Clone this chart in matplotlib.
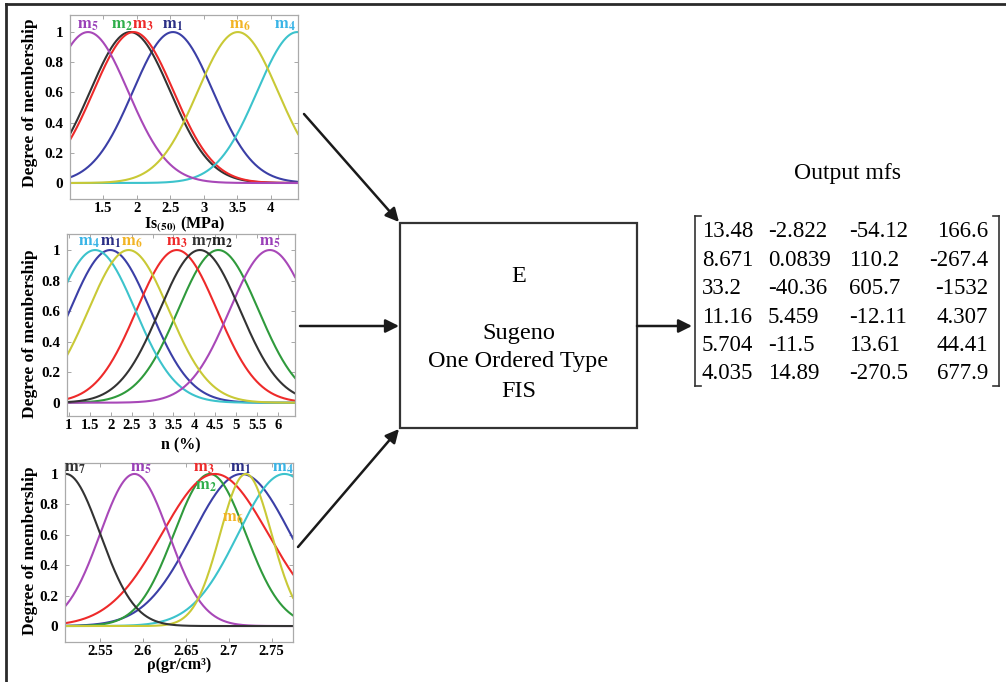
import numpy as np
import matplotlib.pyplot as plt
from matplotlib.patches import FancyArrowPatch, Rectangle
from matplotlib.lines import Line2D

plt.rcParams['font.family'] = ['Liberation Serif', 'DejaVu Serif']
plt.rcParams['mathtext.fontset'] = 'stix'

W, H = 1006, 682

# gaussian input mfs, centres / widths (index = m1..m7)
is50_centers = [2.54, 1.90, 1.95, 4.40, 1.27, 3.51]
is50_sigmas = [0.60, 0.60, 0.60, 0.60, 0.60, 0.60]

n_centers = [1.99, 4.57, 3.58, 1.63, 5.80, 2.43, 4.13]
n_sigmas = [0.96, 0.96, 0.96, 0.96, 0.96, 0.96, 0.96]

rho_centers = [2.715, 2.678, 2.684, 2.765, 2.590, 2.720, 2.510]
rho_sigmas = [0.057, 0.042, 0.062, 0.054, 0.040, 0.030, 0.040]

# output mfs (linear Sugeno coefficients)
output_mfs = [
    [13.48, -2.822, -54.12, 166.6],
    [8.671, 0.0839, 110.2, -267.4],
    [33.2, -40.36, 605.7, -1532],
    [11.16, 5.459, -12.11, 4.307],
    [5.704, -11.5, 13.61, 44.41],
    [4.035, 14.89, -270.5, 677.9],
]

curve_colors = ['#3b3fa6', '#2f9a3c', '#ee2a2a', '#3cc3cc', '#a848b8', '#c9c936', '#333333']
label_colors = ['#2b2f86', '#2fae4a', '#ee2a2a', '#3ab4e6', '#9a40b8', '#f2b425', '#333333']


def f(x, y):
    # pixel position (from top-left) -> figure fraction
    return x / W, 1 - y / H


def gauss(x, c, s):
    return np.exp(-(x - c) ** 2 / (2 * s ** 2))


panels = [
    dict(box=(70, 15, 298, 199), xlim=(1.0, 4.41), ylim=(-0.106, 1.113),
         xticks=[1.5, 2, 2.5, 3, 3.5, 4], xticklabels=['1.5', '2', '2.5', '3', '3.5', '4'],
         centers=is50_centers, sigmas=is50_sigmas,
         colors={1: '#333333'},
         labels=[(5, 1.27, 1.05), (2, 1.77, 1.05), (3, 2.09, 1.05), (1, 2.54, 1.05),
                 (6, 3.54, 1.05), (4, 4.22, 1.05)],
         label_override={},
         xlabel=r'Is$_{\mathbf{(50)}}$ (MPa)', xlabel_y=224, ylabel_y=103),
    dict(box=(67, 234, 295, 416), xlim=(0.96, 6.4), ylim=(-0.087, 1.105),
         xticks=[1, 1.5, 2, 2.5, 3, 3.5, 4, 4.5, 5, 5.5, 6],
         xticklabels=['1', '1.5', '2', '2.5', '3', '3.5', '4', '4.5', '5', '5.5', '6'],
         centers=n_centers, sigmas=n_sigmas,
         colors={},
         labels=[(4, 1.48, 1.05), (1, 1.99, 1.05), (6, 2.51, 1.05), (3, 3.58, 1.05),
                 (7, 4.17, 1.05), (2, 4.65, 1.05), (5, 5.80, 1.05)],
         label_override={1: '#222222'},
         xlabel='n (%)', xlabel_y=445, ylabel_y=334),
    dict(box=(65, 463, 293, 642), xlim=(2.509, 2.775), ylim=(-0.105, 1.072),
         xticks=[2.55, 2.6, 2.65, 2.7, 2.75], xticklabels=['2.55', '2.6', '2.65', '2.7', '2.75'],
         centers=rho_centers, sigmas=rho_sigmas,
         colors={},
         labels=[(7, 2.521, 1.04), (5, 2.597, 1.04), (3, 2.671, 1.04), (1, 2.714, 1.04),
                 (4, 2.763, 1.04), (2, 2.673, 0.92), (6, 2.705, 0.71)],
         label_override={},
         xlabel='ρ(gr/cm³)', xlabel_y=665, ylabel_y=551),
]

fig = plt.figure(figsize=(W / 100, H / 100), dpi=100)

for p in panels:
    x0, y0, x1, y1 = p['box']
    ax = fig.add_axes([x0 / W, 1 - y1 / H, (x1 - x0) / W, (y1 - y0) / H])
    xs = np.linspace(p['xlim'][0], p['xlim'][1], 400)
    for i, (c, s) in enumerate(zip(p['centers'], p['sigmas'])):
        col = p['colors'].get(i, curve_colors[i])
        ax.plot(xs, gauss(xs, c, s), color=col, lw=1.5)
    for idx, lx, ly in p['labels']:
        col = p['label_override'].get(idx - 1, label_colors[idx - 1])
        ax.text(lx, ly, r'$\mathbf{m}_{\mathbf{%d}}$' % idx, color=col,
                fontsize=12, ha='center', va='center')
    ax.set_xlim(*p['xlim'])
    ax.set_ylim(*p['ylim'])
    ax.set_xticks(p['xticks'])
    ax.set_xticklabels(p['xticklabels'], fontweight='bold', fontsize=10.5)
    ax.set_yticks([0, 0.2, 0.4, 0.6, 0.8, 1])
    ax.set_yticklabels(['0', '0.2', '0.4', '0.6', '0.8', '1'], fontweight='bold', fontsize=11)
    ax.tick_params(direction='in', length=3, width=0.6, color='#999999',
                   top=True, right=True)
    ax.tick_params(axis='x', pad=2.5)
    ax.tick_params(axis='y', pad=5)
    for sp in ax.spines.values():
        sp.set_color('#aaaaaa')
        sp.set_linewidth(0.9)
    fig.text(*f((x0 + x1) / 2, p['xlabel_y']), p['xlabel'], fontsize=11.5,
             fontweight='bold', ha='center', va='center')
    fig.text(*f(30, p['ylabel_y']), 'Degree of membership', fontsize=12.5,
             fontweight='bold', rotation=90, ha='center', va='center')

# outer frame (top and left edges only)
fig.add_artist(Line2D([6 / W, 6 / W], [0, 1 - 4 / H], color='#2a2a2a', lw=2))
fig.add_artist(Line2D([6 / W, 1], [1 - 4 / H, 1 - 4 / H], color='#2a2a2a', lw=2))

# FIS block
bx0, by0, bx1, by1 = 400, 223, 637, 428
fig.add_artist(Rectangle(f(bx0, by1), (bx1 - bx0) / W, (by1 - by0) / H,
                         transform=fig.transFigure, fill=False, ec='#333333', lw=1.6))
cx = (bx0 + bx1) / 2
fig.text(*f(cx, 277), 'E', fontsize=17.5, ha='center', va='center')
fig.text(*f(cx, 334), 'Sugeno', fontsize=17.5, ha='center', va='center')
fig.text(*f(cx, 362), 'One Ordered Type', fontsize=17.5, ha='center', va='center')
fig.text(*f(cx, 391), 'FIS', fontsize=17.5, ha='center', va='center')

arrows = [((304, 114), (399, 222)), ((300, 326), (399, 326)),
          ((298, 547), (399, 429)), ((637, 326), (692, 326))]
for a, b in arrows:
    fig.add_artist(FancyArrowPatch(f(*a), f(*b), transform=fig.transFigure,
                                   arrowstyle='-|>', mutation_scale=20, lw=1.8,
                                   color='#1a1a1a', shrinkA=0, shrinkB=0))

# output mfs matrix
fig.text(*f(848, 173), 'Output mfs', fontsize=17, ha='center', va='center')
col_x = [702, 768, 849, 988]
for r, row in enumerate(output_mfs):
    y = 232 + r * 28.4
    for c, v in enumerate(row):
        fig.text(*f(col_x[c], y), '%.4g' % v, fontsize=16.5, va='center',
                 ha='right' if c == 3 else 'left')

top, bot = 216, 386
for x, d in [(695, 6), (999, -6)]:
    fig.add_artist(Line2D([x / W, x / W], [1 - top / H, 1 - bot / H], color='#333333', lw=1.2))
    fig.add_artist(Line2D([x / W, (x + d) / W], [1 - top / H, 1 - top / H], color='#333333', lw=1.2))
    fig.add_artist(Line2D([x / W, (x + d) / W], [1 - bot / H, 1 - bot / H], color='#333333', lw=1.2))

fig.savefig('out.png', dpi=100)
